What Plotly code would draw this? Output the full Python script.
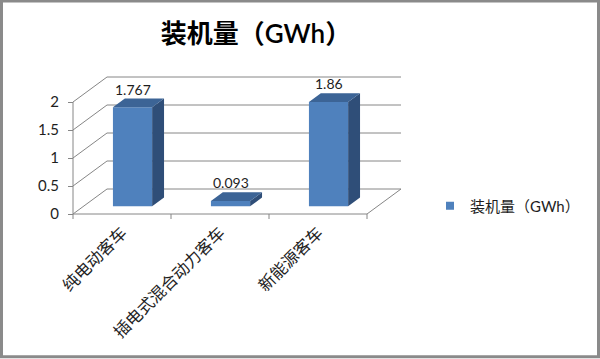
import plotly.graph_objects as go

categories = ["纯电动客车", "插电式混合动力客车", "新能源客车"]
values = [1.767, 0.093, 1.86]
value_labels = ["1.767", "0.093", "1.86"]
y_ticks = [0, 0.5, 1, 1.5, 2]
y_tick_text = ["0", "0.5", "1", "1.5", "2"]
series_name = "装机量（GWh）"
title_text = "装机量（GWh）"

# oblique "3D" projection parameters (in axis units)
DX = 34 / 98   # full depth shift along x
DY = 25 / 56   # full depth shift along y
F1 = 0.31      # bar front depth fraction
F2 = 0.66      # bar back depth fraction
BW = 0.40      # bar width
XMIN, XMAX = -0.5, len(categories) - 0.5
YMAX = max(y_ticks)

FRONT = "#4f81bd"
TOP = "#3c6496"
SIDE = "#2f4e78"
GRID = "#868686"
TXT = "#1e1e1e"
FONT = "Lato, Noto Sans CJK SC, sans-serif"

fig = go.Figure()

# wall / floor lines (drawn below bars)
shapes = []
def seg(x0, y0, x1, y1):
    shapes.append(dict(type="line", xref="x", yref="y", x0=x0, y0=y0, x1=x1, y1=y1,
                       line=dict(color=GRID, width=1), layer="below"))

for t in y_ticks:
    seg(XMIN + DX, t + DY, XMAX + DX, t + DY)   # back wall
    seg(XMIN, t, XMIN + DX, t + DY)             # side wall
seg(XMIN, 0, XMAX, 0)                           # floor front
seg(XMAX, 0, XMAX + DX, DY)                     # floor right
seg(XMIN, 0, XMIN, YMAX)                        # front value axis
for k in range(len(categories) + 1):
    seg(XMIN + k, 0, XMIN + k, -5 / 56)          # category tick marks

# frame around the chart
shapes.append(dict(type="rect", xref="paper", yref="paper", x0=0.0025, y0=0.006,
                   x1=0.9975, y1=0.997, line=dict(color="#8a8a8a", width=3), layer="above"))

# bar front faces
xs_front = [i + F1 * DX for i in range(len(categories))]
fig.add_trace(go.Bar(x=xs_front, y=values, base=[F1 * DY] * len(values), width=BW,
                     marker=dict(color=FRONT, line=dict(width=0)), showlegend=False,
                     hoverinfo="skip"))

ddx = (F2 - F1) * DX
ddy = (F2 - F1) * DY
side_x, side_y, top_x, top_y = [], [], [], []
for i, v in enumerate(values):
    xl = xs_front[i] - BW / 2
    xr = xs_front[i] + BW / 2
    b0 = F1 * DY
    side_x += [xr, xr + ddx, xr + ddx, xr, xr, None]
    side_y += [b0, b0 + ddy, b0 + v + ddy, b0 + v, b0, None]
    top_x += [xl, xr, xr + ddx, xl + ddx, xl, None]
    top_y += [b0 + v, b0 + v, b0 + v + ddy, b0 + v + ddy, b0 + v, None]

fig.add_trace(go.Scatter(x=side_x, y=side_y, mode="lines", fill="toself", fillcolor=SIDE,
                         line=dict(width=0, color=SIDE), showlegend=False, hoverinfo="skip"))
fig.add_trace(go.Scatter(x=top_x, y=top_y, mode="lines", fill="toself", fillcolor=TOP,
                         line=dict(width=0, color=TOP), showlegend=False, hoverinfo="skip"))

# legend entry
fig.add_trace(go.Scatter(x=[None], y=[None], mode="markers", name=series_name,
                         marker=dict(symbol="square", size=8, color=FRONT)))

# data labels
annotations = []
for i, v in enumerate(values):
    annotations.append(dict(x=xs_front[i], y=F1 * DY + v + ddy, xref="x", yref="y",
                            text=value_labels[i], showarrow=False, xanchor="center",
                            yanchor="bottom", yshift=-1,
                            font=dict(family=FONT, size=14, color=TXT)))

fig.update_layout(
    width=600, height=359,
    margin=dict(l=0, r=0, t=0, b=0),
    paper_bgcolor="white", plot_bgcolor="white",
    title=dict(text=title_text, x=256 / 600, y=(359 - 34) / 359, xanchor="center",
               yanchor="middle", font=dict(family=FONT, size=26, color="#000000",
                                           weight=600)),
    xaxis=dict(range=[-122 / 98, (600 - 122) / 98], domain=[0, 1], anchor="free",
               position=(359 - 214) / 359, tickvals=list(range(len(categories))),
               ticktext=categories, tickangle=-45, ticks="", showgrid=False,
               zeroline=False, showline=False, ticklabelstandoff=5,
               tickfont=dict(family="Noto Sans CJK SC", size=16.5, color=TXT)),
    yaxis=dict(range=[(214 - 359) / 56, 214 / 56], domain=[0, 1], anchor="free",
               position=73 / 600, tickvals=y_ticks, ticktext=y_tick_text,
               ticks="outside", ticklen=5, tickcolor=GRID, tickwidth=1,
               showgrid=False, zeroline=False, showline=False, ticklabelstandoff=6,
               tickfont=dict(family=FONT, size=15, color=TXT)),
    legend=dict(x=430 / 600, y=(359 - 206) / 359, xanchor="left", yanchor="middle",
                font=dict(family=FONT, size=15, color=TXT), bgcolor="rgba(0,0,0,0)"),
    shapes=shapes,
    annotations=annotations,
)

fig.write_html("out.html")
